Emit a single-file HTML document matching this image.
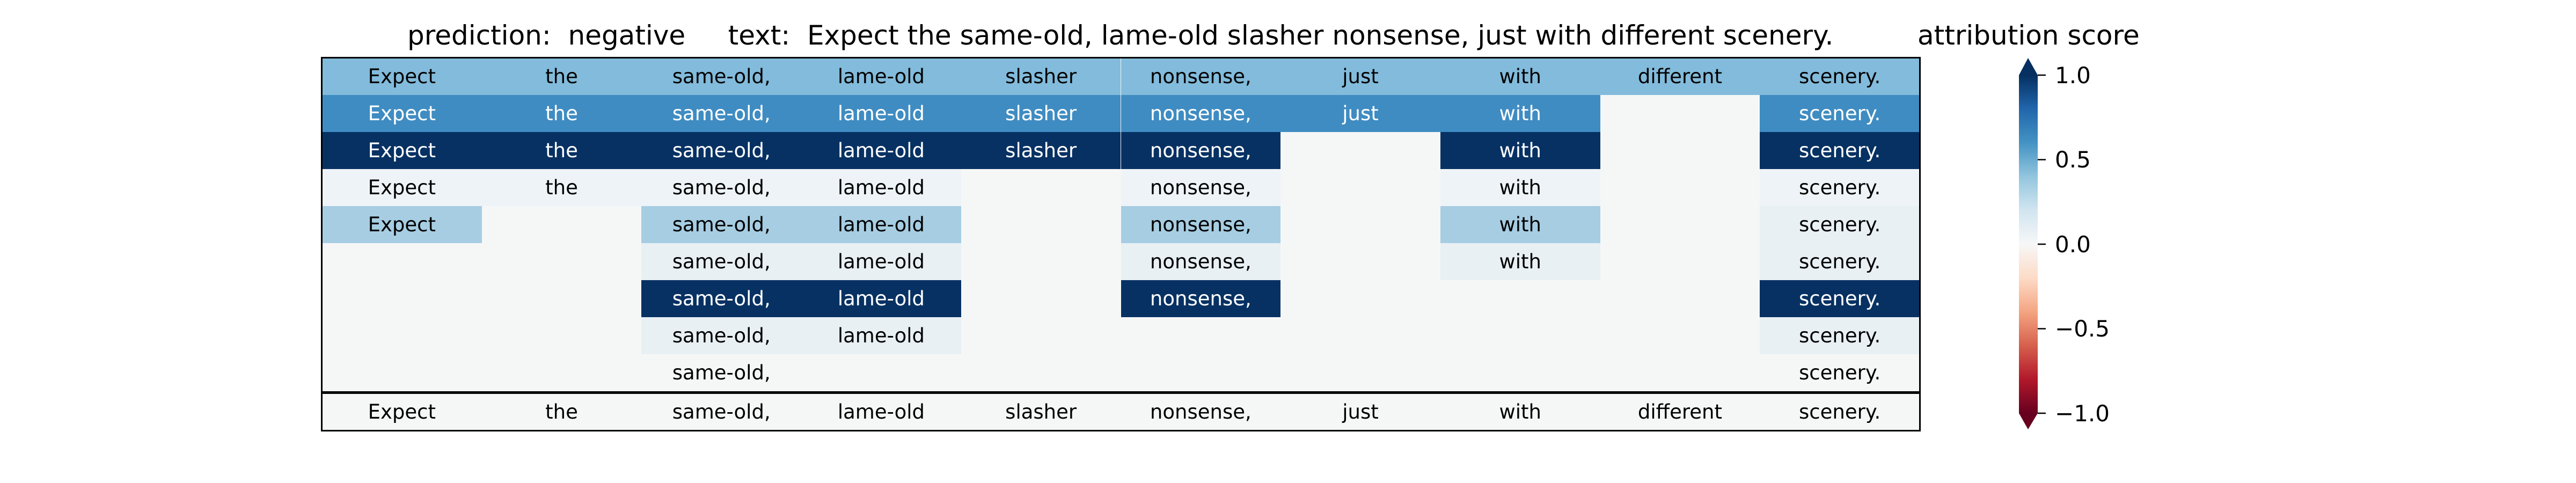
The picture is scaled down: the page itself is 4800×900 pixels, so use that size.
<!DOCTYPE html>
<html><head><meta charset="utf-8"><style>
body{margin:0;width:4800px;height:900px;background:#fff;position:relative;overflow:hidden;font-family:"DejaVu Sans","Liberation Sans",sans-serif;}
.t{position:absolute;white-space:nowrap;color:#000;}
#tbl{position:absolute;left:600px;top:108px;width:2977px;height:694px;background:#f5f7f7;}
.c{position:absolute;width:297.7px;height:69px;display:flex;align-items:center;justify-content:center;font-size:37px;color:#000;box-sizing:border-box;}
.L{background:#82bbdb}.M{background:#3f8cc2;color:#fff}.D{background:#073163;color:#fff}.P{background:#eef3f7}.A{background:#a6cde2}.E{background:#e8f0f4}
</style></head><body>
<div class="t" style="left:759px;top:37px;font-size:50px;">prediction:&nbsp; negative &nbsp;&nbsp;&nbsp; text:&nbsp; Expect the same-old, lame-old slasher nonsense, just with different scenery.</div>
<div class="t" style="left:3573px;top:37px;font-size:50px;">attribution score</div>
<div id="tbl">
<script>
var w=["Expect","the","same-old,","lame-old","slasher","nonsense,","just","with","different","scenery."];
var rows=[
"LLLLLLLLLL",
"MMMMMMMM.M",
"DDDDDD.D.D",
"PPPP.P.P.P",
"A.AA.A.A.E",
"..EE.E.E.E",
"..DD.D...D",
"..EE.....E",
"..T......T"];
var h="";
for(var r=0;r<9;r++){for(var c=0;c<10;c++){var k=rows[r][c];if(k==".")continue;var cls=k=="T"?"":k;h+='<div class="c '+cls+'" style="left:'+(c*297.7)+'px;top:'+(r*69)+'px">'+w[c]+'</div>';}}
for(var c=0;c<10;c++){h+='<div class="c" style="left:'+(c*297.7)+'px;top:625px">'+w[c]+'</div>';}
document.write(h);
</script>
</div>
<div style="position:absolute;left:598px;top:106px;width:2981px;height:698px;border:3px solid #000;box-sizing:border-box;"></div>
<div style="position:absolute;left:598px;top:729px;width:2981px;height:5px;background:#000;"></div>
<svg style="position:absolute;left:0;top:0" width="4800" height="900">
<defs><linearGradient id="g" x1="0" y1="0" x2="0" y2="1">
<stop offset="0" stop-color="#053061"/><stop offset="0.1" stop-color="#2166ac"/><stop offset="0.2" stop-color="#4393c3"/><stop offset="0.3" stop-color="#92c5de"/><stop offset="0.4" stop-color="#d1e5f0"/><stop offset="0.5" stop-color="#f7f7f7"/><stop offset="0.6" stop-color="#fddbc7"/><stop offset="0.7" stop-color="#f4a582"/><stop offset="0.8" stop-color="#d6604d"/><stop offset="0.9" stop-color="#b2182b"/><stop offset="1" stop-color="#67001f"/>
</linearGradient></defs>
<polygon points="3779,108 3797,140 3762,140" fill="#053061"/>
<rect x="3762" y="140" width="35" height="630" fill="url(#g)"/>
<polygon points="3762,770 3797,770 3779,800" fill="#67001f"/>
<g stroke="#000" stroke-width="2.5">
<line x1="3797" y1="140" x2="3812" y2="140"/><line x1="3797" y1="297.5" x2="3812" y2="297.5"/><line x1="3797" y1="455" x2="3812" y2="455"/><line x1="3797" y1="612.5" x2="3812" y2="612.5"/><line x1="3797" y1="770" x2="3812" y2="770"/>
</g>
<g font-family="DejaVu Sans, Liberation Sans, sans-serif" font-size="42" fill="#000">
<text x="3829" y="155">1.0</text><text x="3829" y="312">0.5</text><text x="3829" y="470">0.0</text><text x="3829" y="627">−0.5</text><text x="3829" y="785">−1.0</text>
</g>
</svg>
</body></html>
